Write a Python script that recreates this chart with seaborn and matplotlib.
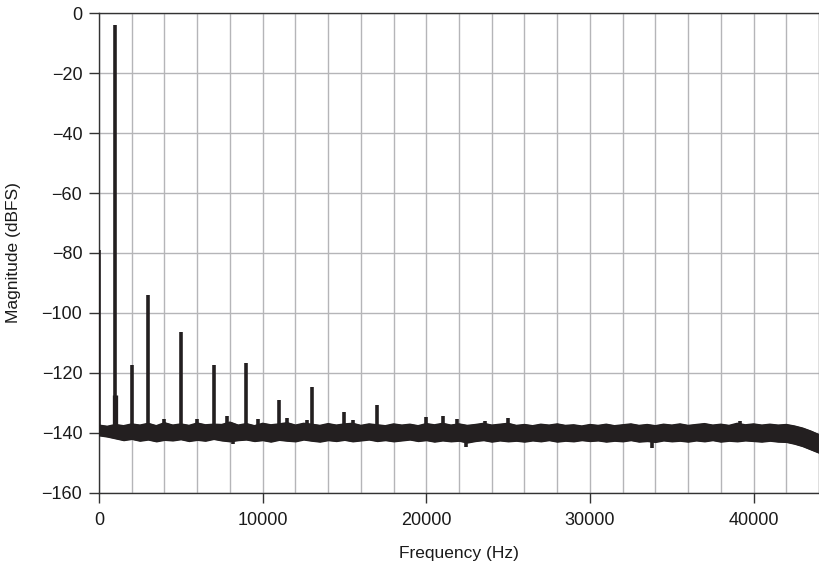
import numpy as np
import pandas as pd
import matplotlib
matplotlib.use("Agg")
import matplotlib.pyplot as plt
import seaborn as sns
from matplotlib.ticker import MultipleLocator

freq = np.arange(0, 44500, 500)
floor_top = [-137.6, -138.0, -137.4, -137.8, -137.2, -137.6, -137.0, -137.8, -136.8, -137.6,
             -137.2, -137.7, -136.9, -137.5, -137.3, -137.4, -136.6, -137.6, -137.1, -137.8,
             -137.0, -137.5, -137.2, -136.8, -137.6, -137.0, -137.3, -137.7, -137.1, -137.6,
             -137.2, -137.0, -137.7, -137.2, -137.5, -137.8, -137.2, -137.6, -137.3, -137.8,
             -137.1, -137.5, -137.0, -137.6, -137.2, -137.7, -137.4, -137.0, -137.6, -137.3,
             -137.0, -137.7, -137.4, -137.8, -137.3, -137.6, -137.2, -137.7, -137.5, -137.9,
             -137.4, -137.7, -137.3, -137.8, -137.5, -137.2, -137.7, -137.4, -137.8, -137.3,
             -137.6, -137.2, -137.7, -137.4, -137.1, -137.6, -137.3, -137.7, -137.0, -137.5,
             -137.2, -137.6, -137.3, -137.6, -137.4, -137.9, -138.6, -139.6, -140.8]
floor_bot = [-140.8, -141.2, -141.8, -142.4, -142.0, -142.6, -142.2, -142.8, -142.3, -142.5,
             -142.1, -142.7, -142.3, -142.6, -142.0, -142.5, -142.8, -142.4, -142.2, -142.7,
             -142.4, -142.9, -142.3, -142.6, -142.8, -142.2, -142.6, -142.9, -142.4, -142.7,
             -142.3, -142.8, -142.5, -142.2, -142.7, -142.4, -142.8, -142.5, -142.2, -142.7,
             -142.4, -142.9, -142.5, -142.8, -142.6, -143.2, -142.7, -142.4, -142.9, -142.5,
             -142.8, -142.6, -142.9, -142.5, -142.8, -142.4, -142.9, -142.6, -142.8, -142.4,
             -142.7, -142.5, -142.9, -142.6, -142.8, -142.4, -142.9, -142.7, -143.0, -142.5,
             -142.8, -142.6, -142.9, -142.5, -142.8, -142.4, -142.9, -142.6, -142.8, -142.5,
             -142.7, -142.9, -142.6, -142.9, -143.0, -143.6, -144.4, -145.5, -146.6]

# fundamental + harmonics
peak_freq = [0, 1000, 2000, 3000, 5000, 7000, 9000, 11000, 13000, 15000, 17000]
peak_db = [-79, -4, -117.5, -94, -106.3, -117.3, -116.6, -129, -124.7, -133.2, -130.7]

# small spurs sticking out of the floor
spur_freq = [1000, 4000, 6000, 7850, 9700, 11500, 12700, 15500, 20000, 21000, 21900, 23600, 25000, 39200]
spur_db = [-127.6, -135.3, -135.3, -134.3, -135.6, -135.0, -135.7, -135.7, -134.7, -134.3, -135.5, -136.0, -135.2, -136.0]

# dips below the floor
dip_freq = [8200, 22400, 33800]
dip_db = [-143.8, -144.7, -145.0]

ink = '#231f20'

sns.set_theme(style='ticks')
plt.rcParams['font.family'] = ['Liberation Sans', 'DejaVu Sans']

df = pd.DataFrame({'freq': freq, 'top': floor_top, 'bot': floor_bot})

fig = plt.figure(figsize=(8.19, 5.67), dpi=100)
ax = fig.add_axes([99 / 819, 1 - 492.5 / 567, 1 - 99 / 819, (492.5 - 13.3) / 567])

ax.fill_between(df['freq'], df['bot'], df['top'], color=ink, lw=1.4, zorder=3)
sns.lineplot(data=df, x='freq', y='top', color=ink, lw=1.4, ax=ax, zorder=3)
sns.lineplot(data=df, x='freq', y='bot', color=ink, lw=1.4, ax=ax, zorder=3)

ax.vlines(peak_freq, -139, peak_db, color=ink, lw=2.6, zorder=4)
ax.vlines(spur_freq[:1], -139, spur_db[:1], color=ink, lw=3.8, zorder=4)
ax.vlines(spur_freq[1:], -139, spur_db[1:], color=ink, lw=2.6, zorder=4)
ax.vlines(dip_freq, -141, dip_db, color=ink, lw=2.6, zorder=4)

ax.set_xlim(0, 44000)
ax.set_ylim(-160, 0)
ax.xaxis.set_major_locator(MultipleLocator(10000))
ax.xaxis.set_minor_locator(MultipleLocator(2000))
ax.yaxis.set_major_locator(MultipleLocator(20))

ax.set_axisbelow(True)
ax.grid(which='major', axis='y', color='#b5b5b8', lw=1.0)
ax.grid(which='both', axis='x', color='#b5b5b8', lw=1.0)

ax.tick_params(axis='both', which='major', direction='out', length=7, width=1.0,
               color='#333333', labelsize=13, pad=5, labelcolor='#1a1a1a')
ax.tick_params(axis='x', which='major', pad=7)
ax.tick_params(axis='x', which='minor', length=0)
ax.set_yticklabels([f'\u2212{abs(int(v))}' if v < 0 else f'{int(v)}' for v in ax.get_yticks()])

for s in ['left', 'bottom', 'top']:
    ax.spines[s].set_color('#333333')
    ax.spines[s].set_linewidth(1.0)
ax.spines['right'].set_color('#9a9a9a')
ax.spines['right'].set_linewidth(1.0)

ax.set_xlabel('Frequency (Hz)', fontsize=12.5, color='#1a1a1a', labelpad=12)
ax.set_ylabel('Magnitude (dBFS)', fontsize=12.5, color='#1a1a1a', labelpad=15)

fig.savefig('out.png', dpi=100)
